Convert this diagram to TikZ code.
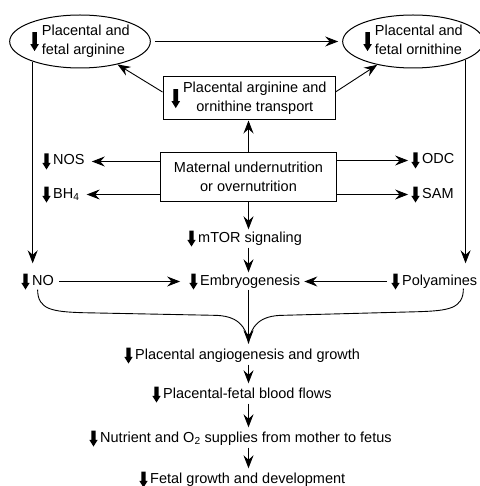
\documentclass[tikz,border=0pt]{standalone}
\usepackage{fontspec}
\setmainfont{Liberation Sans}
\usetikzlibrary{arrows.meta,shapes.geometric,calc}
\newcommand{\dn}{\tikz[baseline=0pt]\fill (-2.2pt,11.5pt) -- (2.2pt,11.5pt) -- (2.2pt,2.2pt) -- (4.2pt,2.2pt) -- (0pt,-4.5pt) -- (-4.2pt,2.2pt) -- (-2.2pt,2.2pt) -- cycle;}
\newcommand{\dnb}{\tikz[baseline=0pt]\fill (-2.3pt,13pt) -- (2.3pt,13pt) -- (2.3pt,1pt) -- (4.3pt,1pt) -- (0pt,-6pt) -- (-4.3pt,1pt) -- (-2.3pt,1pt) -- cycle;}
\begin{document}
\begin{tikzpicture}[x=1pt,y=-1pt,
  font=\fontsize{14.5}{18.5}\selectfont,
  line width=0.9pt,
  arr/.style={-{Stealth[length=13pt,width=10pt,inset=4.5pt]}},
  lbl/.style={inner sep=0pt, anchor=base west},
  ell/.style={ellipse, draw, line width=1pt, inner sep=0pt},
  box/.style={draw, line width=1pt, inner sep=0pt}]
\useasboundingbox (0,0) rectangle (479,486);

% top row
\node[ell, minimum width=134pt, minimum height=53pt] (la) at (80,41.5)
  {\dnb\hspace{3pt}\begin{tabular}{@{}l@{}}Placental and\\fetal arginine\end{tabular}};
\node[ell, minimum width=130pt, minimum height=53pt] (ra) at (413,41.5)
  {\dnb\hspace{3pt}\begin{tabular}{@{}l@{}}Placental and\\fetal ornithine\end{tabular}};
\node[box, minimum width=172pt, minimum height=43pt] (tr) at (249,98.5)
  {\dnb\hspace{3pt}\begin{tabular}{@{}c@{}}Placental arginine and\\ornithine transport\end{tabular}};
\node[box, minimum width=176pt, minimum height=48pt, align=center] (mat) at (248.5,177)
  {Maternal undernutrition\\or overnutrition};

% side labels
\node[lbl] (nos) at (42.1,165) {\dn\hspace{2.5pt}NOS};
\node[lbl] (bh4) at (42.1,198) {\dn\hspace{2.5pt}BH\textsubscript{4}};
\node[lbl] (odc) at (411.1,164) {\dn\hspace{2.5pt}ODC};
\node[lbl] (sam) at (411.1,198) {\dn\hspace{2.5pt}SAM};
\node[lbl] (mtor) at (187.1,242) {\dn\hspace{2.5pt}mTOR signaling};

% middle row
\node[lbl] (no) at (21.1,285) {\dn\hspace{2.5pt}NO};
\node[lbl] (emb) at (189.1,285) {\dn\hspace{2.5pt}Embryogenesis};
\node[lbl] (poly) at (391.1,285) {\dn\hspace{2.5pt}Polyamines};

% bottom chain
\node[lbl] (pag) at (124.1,359) {\dn\hspace{2.5pt}Placental angiogenesis and growth};
\node[lbl] (pfb) at (152.1,398) {\dn\hspace{2.5pt}Placental-fetal blood flows};
\node[lbl] (nut) at (89.1,442) {\dn\hspace{2.5pt}Nutrient and O\textsubscript{2} supplies from mother to fetus};
\node[lbl] (fgd) at (139.1,483) {\dn\hspace{2.5pt}Fetal growth and development};

% connectors top
\draw[arr, shorten <=4pt, shorten >=4pt] (la.east) -- (ra.west);
\draw[arr] ([yshift=6.5pt]tr.west) -- (la);
\draw[arr] ([yshift=6.5pt]tr.east) -- (ra);
\draw[arr] (mat.north) -- (mat.north |- tr.south);

\draw[arr, shorten >=7pt] (mat.west |- nos) -- (nos.east);
\draw[arr, shorten >=7pt] (mat.west |- bh4) -- (bh4.east);
\draw[arr, shorten >=3pt] (mat.east |- odc) -- (odc.west);
\draw[arr, shorten >=3pt] (mat.east |- sam) -- (sam.west);

\draw[arr, shorten >=1pt] (mat.south) -- (mat.south |- mtor.north);
\draw[arr, shorten <=1pt, shorten >=1pt] (mtor.south -| mat.south) -- (emb.north -| mat.south);

% long verticals
\draw[arr, shorten >=10pt] (la.203) -- (la.203 |- no.north);
\draw[arr, shorten >=10pt] (ra.-19) -- (ra.-19 |- poly.north);

% middle horizontals
\draw[arr, shorten <=5pt, shorten >=9pt] (no.east) -- (emb.west);
\draw[arr, shorten <=4pt, shorten >=4pt] (poly.west) -- (emb.east);

% brace into the chain
\coordinate (join) at ([yshift=4pt]pag.north -| mat.south);
\coordinate (rs) at ([xshift=-14pt,yshift=1pt]poly.south east);
\draw (no.south) .. controls ([yshift=-20pt]no.south) and ($(no.south)+(15,22)$) .. ($(no.south)+(45,23)$)
  -- ($(join)+(-35,-28)$) .. controls ($(join)+(-12,-28)$) and ($(join)+(-2,-18)$) .. (join);
\draw (rs) .. controls ([yshift=-20pt]rs) and ($(rs)+(-15,22)$) .. ($(rs)+(-45,23)$)
  -- ($(join)+(35,-28)$) .. controls ($(join)+(12,-28)$) and ($(join)+(2,-18)$) .. (join);
\draw[arr] (emb.south -| mat.south) -- (join);

% chain arrows
\draw[arr, shorten <=1pt, shorten >=3pt] (pag.south -| mat.south) -- (pfb.north -| mat.south);
\draw[arr, shorten <=1pt, shorten >=3pt] (pfb.south -| mat.south) -- (nut.north -| mat.south);
\draw[arr, shorten <=1pt, shorten >=3pt] (nut.south -| mat.south) -- (fgd.north -| mat.south);
\end{tikzpicture}
\end{document}
